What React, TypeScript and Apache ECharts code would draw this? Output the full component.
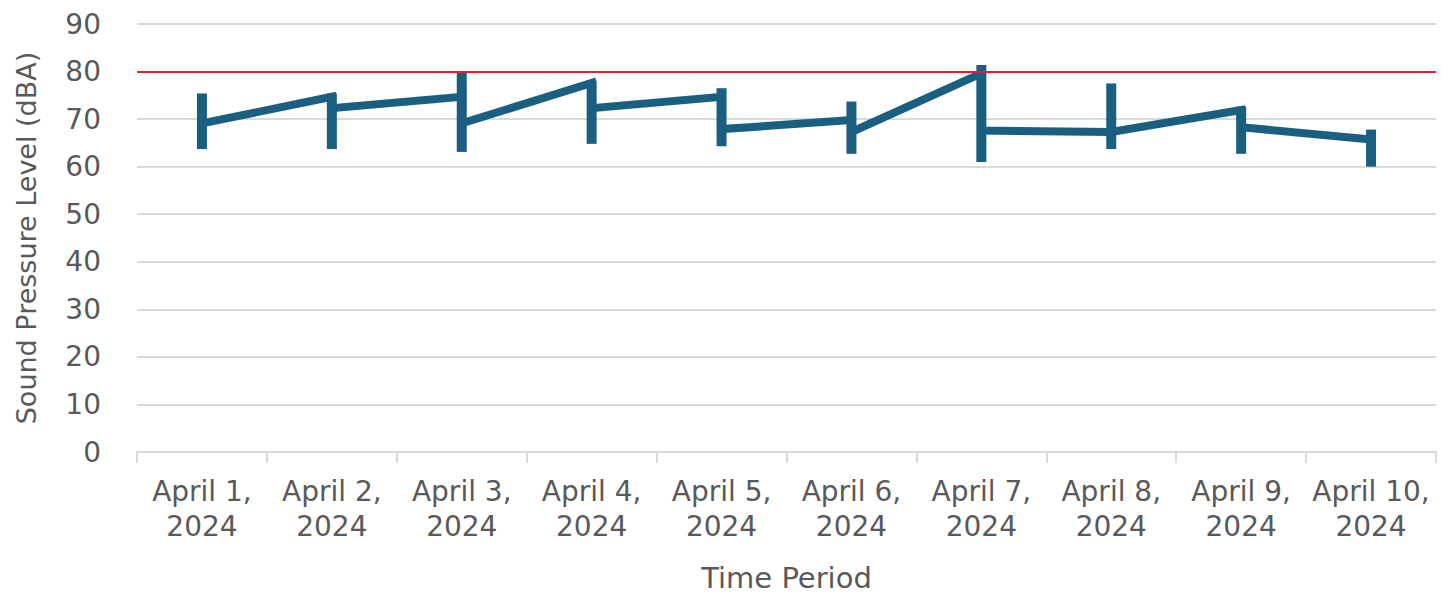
import React, { useEffect, useRef } from "react";
import * as echarts from "echarts";

const categories = [
  "April 1,\n2024", "April 2,\n2024", "April 3,\n2024", "April 4,\n2024", "April 5,\n2024",
  "April 6,\n2024", "April 7,\n2024", "April 8,\n2024", "April 9,\n2024", "April 10,\n2024",
];
// value where the line arrives at each day (null: none)
const arriveValues: (number | null)[] = [null, 74.7, 74.7, 77.6, 74.7, 69.8, 79.6, 67.3, 71.9, 65.7];
// value where the line leaves each day (null: none)
const departValues: (number | null)[] = [69.1, 72.3, 69.1, 72.3, 67.9, 67.3, 67.6, 67.3, 68.3, null];
const highValues = [75.4, 75.4, 80.0, 78.1, 76.5, 73.7, 81.4, 77.5, 72.6, 67.8];
const lowValues = [63.7, 63.7, 63.1, 64.8, 64.3, 62.7, 61.0, 63.7, 62.7, 60.0];
const limitValue = 80;
const yTicks = { min: 0, max: 90, interval: 10 };

const LINE_COLOR = "#1A5E80";
const TEXT_COLOR = "#595959";
const GRID_COLOR = "#D9D9D9";
const FONT = "DejaVu Sans";

export default function App() {
  const ref = useRef<HTMLDivElement>(null);
  useEffect(() => {
    if (!ref.current) return;
    const chart = echarts.init(ref.current, undefined, { renderer: "svg" });

    const linePoints: [number, number][] = [];
    categories.forEach((_, i) => {
      const a = arriveValues[i];
      const d = departValues[i];
      if (a != null) linePoints.push([i, a]);
      if (d != null) linePoints.push([i, d]);
    });
    const barData = categories.map((_, i) => [i, lowValues[i], highValues[i]]);

    chart.setOption({
      animation: false,
      backgroundColor: "#ffffff",
      grid: { left: 137, right: 15, top: 24, bottom: 142, containLabel: false, outerBoundsMode: "none" },
      xAxis: [
        {
          type: "category",
          data: categories,
          boundaryGap: true,
          name: "Time Period",
          nameLocation: "middle",
          nameGap: 111,
          nameTextStyle: { color: TEXT_COLOR, fontSize: 29, fontFamily: FONT },
          axisLine: { show: true, lineStyle: { color: GRID_COLOR, width: 2 } },
          axisTick: { show: true, length: 11, interval: 0, lineStyle: { color: GRID_COLOR, width: 2 } },
          axisLabel: {
            interval: 0,
            color: TEXT_COLOR,
            fontSize: 28,
            fontFamily: FONT,
            lineHeight: 35,
            margin: 22,
          },
          splitLine: { show: false },
        },
        {
          type: "value",
          min: -0.5,
          max: 9.5,
          show: false,
        },
      ],
      yAxis: {
        type: "value",
        min: yTicks.min,
        max: yTicks.max,
        interval: yTicks.interval,
        name: "Sound Pressure Level (dBA)",
        nameLocation: "middle",
        nameGap: 97,
        nameTextStyle: { color: TEXT_COLOR, fontSize: 27, fontFamily: FONT },
        axisLine: { show: false },
        axisTick: { show: false },
        axisLabel: { color: TEXT_COLOR, fontSize: 28, fontFamily: FONT, margin: 36 },
        splitLine: { lineStyle: { color: GRID_COLOR, width: 2 } },
      },
      series: [
        {
          type: "custom",
          xAxisIndex: 1,
          data: barData,
          renderItem: (params: any, api: any) => {
            const x = api.value(0);
            const top = api.coord([x, api.value(2)]);
            const bot = api.coord([x, api.value(1)]);
            const w = 10;
            return {
              type: "rect",
              shape: { x: top[0] - w / 2, y: top[1], width: w, height: bot[1] - top[1] },
              style: { fill: LINE_COLOR },
            };
          },
          z: 3,
        },
        {
          type: "line",
          xAxisIndex: 1,
          data: linePoints,
          showSymbol: false,
          symbol: "none",
          lineStyle: { color: LINE_COLOR, width: 8, join: "miter" },
          z: 3,
          markLine: {
            silent: true,
            symbol: "none",
            label: { show: false },
            lineStyle: { color: "#E3202E", width: 2, type: "solid" },
            data: [{ yAxis: limitValue }],
          },
        },
      ],
    });
    return () => chart.dispose();
  }, []);
  return (
    <div
      ref={ref}
      style={{ position: "fixed", left: 0, top: 0, width: 1451, height: 594 }}
    />
  );
}
